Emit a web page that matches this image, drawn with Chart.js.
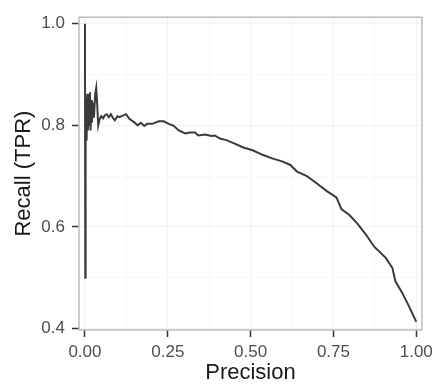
<!DOCTYPE html>
<html>
<head>
<meta charset="utf-8">
<script src="https://cdn.jsdelivr.net/npm/chart.js@4/dist/chart.umd.min.js"></script>
<style>
  html, body { margin: 0; padding: 0; background: #ffffff; }
  #wrap { width: 438px; height: 385px; position: relative; }
</style>
</head>
<body>
<div id="wrap"><canvas id="c" width="438" height="385"></canvas></div>
<script>
// Precision (x) and Recall (y)
const precision = [
  0.000, 0.001, 0.002, 0.004, 0.005, 0.007, 0.009, 0.011, 0.013, 0.015,
  0.017, 0.019, 0.021, 0.024, 0.027, 0.031, 0.034, 0.037, 0.040, 0.044,
  0.049, 0.055, 0.060, 0.066, 0.072, 0.078, 0.084, 0.090, 0.098, 0.104,
  0.114, 0.124, 0.134, 0.149, 0.159, 0.169, 0.179, 0.188, 0.203, 0.223,
  0.238, 0.253, 0.268, 0.283, 0.303, 0.317, 0.332, 0.342, 0.362, 0.382,
  0.392, 0.407, 0.427, 0.452, 0.476, 0.506, 0.536, 0.565, 0.595, 0.620,
  0.640, 0.670, 0.699, 0.729, 0.759, 0.774, 0.799, 0.823, 0.848, 0.873,
  0.908, 0.928, 0.937, 0.957, 0.977, 1.000
];
const recall = [
  1.000, 0.500, 0.790, 0.855, 0.770, 0.862, 0.790, 0.858, 0.800, 0.865,
  0.790, 0.850, 0.805, 0.845, 0.815, 0.862, 0.874, 0.840, 0.800, 0.812,
  0.818, 0.814, 0.820, 0.822, 0.816, 0.822, 0.815, 0.810, 0.818, 0.816,
  0.819, 0.822, 0.813, 0.806, 0.800, 0.805, 0.799, 0.803, 0.803, 0.808,
  0.808, 0.803, 0.799, 0.790, 0.784, 0.786, 0.786, 0.780, 0.782, 0.779,
  0.780, 0.774, 0.771, 0.764, 0.757, 0.751, 0.742, 0.735, 0.729, 0.722,
  0.709, 0.700, 0.686, 0.671, 0.658, 0.635, 0.623, 0.606, 0.585, 0.561,
  0.539, 0.519, 0.493, 0.471, 0.445, 0.413
];
const xMajorTicks = [0, 0.25, 0.5, 0.75, 1.0];
const xMinorTicks = [0.125, 0.375, 0.625, 0.875];
const yMajorTicks = [0.4, 0.6, 0.8, 1.0];
const yMinorTicks = [0.5, 0.7, 0.9];
const xTitle = 'Precision';
const yTitle = 'Recall (TPR)';

const points = precision.map((p, i) => ({ x: p, y: recall[i] }));

function isMajor(v, majors) {
  return majors.some(m => Math.abs(m - v) < 1e-9);
}

const panelBorder = {
  id: 'panelBorder',
  afterDraw(chart) {
    const { ctx, chartArea: a } = chart;
    ctx.save();
    ctx.strokeStyle = '#bdbdbd';
    ctx.lineWidth = 1.5;
    ctx.strokeRect(a.left, a.top, a.right - a.left, a.bottom - a.top);
    ctx.restore();
  }
};

const fontFamily = "'Liberation Sans', Arial, Helvetica, sans-serif";

new Chart(document.getElementById('c'), {
  type: 'scatter',
  data: {
    datasets: [{
      data: points,
      showLine: true,
      borderColor: '#3a3a3a',
      borderWidth: 2,
      pointRadius: 0,
      pointHoverRadius: 0,
      fill: false,
      tension: 0
    }]
  },
  options: {
    responsive: false,
    animation: false,
    plugins: { legend: { display: false }, tooltip: { enabled: false } },
    layout: { padding: { top: 11, right: 11, left: 0, bottom: 0 } },
    scales: {
      x: {
        type: 'linear',
        min: -0.018,
        max: 1.017,
        afterBuildTicks(scale) {
          scale.ticks = [...xMajorTicks, ...xMinorTicks].sort((a, b) => a - b).map(v => ({ value: v }));
        },
        afterFit(scale) { scale.height = 55; },
        border: { display: false },
        grid: {
          color: ctx => isMajor(ctx.tick.value, xMajorTicks) ? '#f1f1f1' : '#f8f8f8',
          lineWidth: 1,
          drawTicks: true,
          tickLength: 7,
          tickWidth: 1.5,
          tickColor: ctx => isMajor(ctx.tick.value, xMajorTicks) ? '#333333' : 'rgba(0,0,0,0)'
        },
        ticks: {
          autoSkip: false,
          maxRotation: 0,
          padding: 5,
          color: '#4d4d4d',
          font: { family: fontFamily, size: 17 },
          callback: v => isMajor(v, xMajorTicks) ? v.toFixed(2) : ''
        },
        title: {
          display: true,
          text: xTitle,
          color: '#1a1a1a',
          font: { family: fontFamily, size: 22, lineHeight: 1.1 },
          padding: { top: 0, bottom: 0 }
        }
      },
      y: {
        type: 'linear',
        min: 0.397,
        max: 1.013,
        afterBuildTicks(scale) {
          scale.ticks = [...yMajorTicks, ...yMinorTicks].sort((a, b) => a - b).map(v => ({ value: v }));
        },
        afterFit(scale) { scale.width = 79; },
        border: { display: false },
        grid: {
          color: ctx => isMajor(ctx.tick.value, yMajorTicks) ? '#f1f1f1' : '#f8f8f8',
          lineWidth: 1,
          drawTicks: true,
          tickLength: 7,
          tickWidth: 1.5,
          tickColor: ctx => isMajor(ctx.tick.value, yMajorTicks) ? '#333333' : 'rgba(0,0,0,0)'
        },
        ticks: {
          autoSkip: false,
          padding: 7,
          color: '#4d4d4d',
          font: { family: fontFamily, size: 17 },
          callback: v => isMajor(v, yMajorTicks) ? v.toFixed(1) : ''
        },
        title: {
          display: true,
          text: yTitle,
          color: '#1a1a1a',
          font: { family: fontFamily, size: 22, lineHeight: 1.1 },
          padding: { top: 12, bottom: 0 }
        }
      }
    }
  },
  plugins: [panelBorder]
});
</script>
</body>
</html>
